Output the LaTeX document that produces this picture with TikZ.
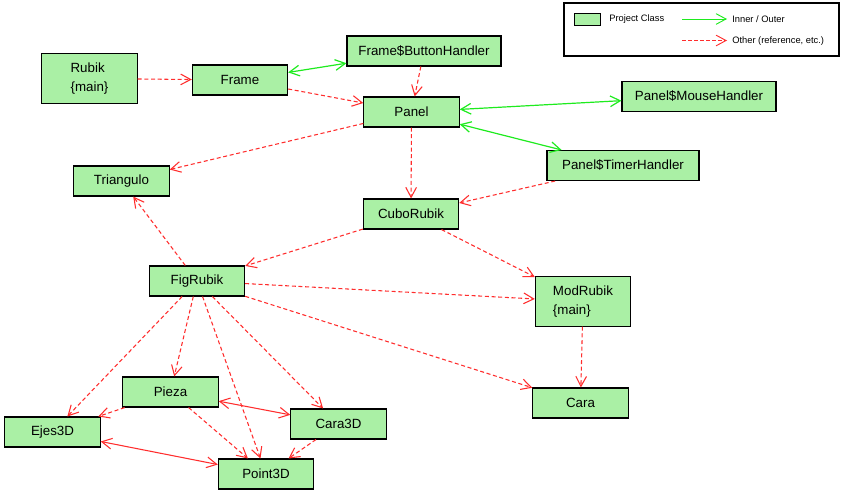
\documentclass[tikz,border=0pt]{standalone}
\usepackage{fontspec}
\setmainfont{Liberation Sans}
\usetikzlibrary{arrows.meta}

\definecolor{clsfill}{RGB}{170,240,165}
\definecolor{innergreen}{RGB}{30,235,30}
\definecolor{otherred}{RGB}{255,45,45}

\tikzset{
    >={Straight Barb[length=7.5pt,width=8pt]},
    cls/.style = {draw=black, line width=0.8pt, fill=clsfill, inner sep=0pt,
                  minimum width=71.5pt, minimum height=22.5pt, font={\fontsize{10}{12}\selectfont}},
    widecls/.style = {cls, minimum width=115.5pt},
    maincls/.style = {cls, minimum height=37pt, align=left, font={\fontsize{10}{14}\selectfont}},
    inner/.style = {draw=innergreen, line width=0.9pt, <->},
    other/.style = {draw=otherred, line width=0.8pt, dash pattern=on 3pt off 2pt, ->},
    otherboth/.style = {draw=otherred, line width=0.8pt, <->},
    legendtext/.style = {font={\fontsize{7}{8}\selectfont}, anchor=west, inner sep=0pt},
}

\begin{document}
\begin{tikzpicture}[x=0.75pt, y=-0.75pt]
        \useasboundingbox (0, 0) rectangle (845, 494);

        % legend
        \draw[line width=0.8pt] (564, 3) rectangle (839, 56);
        \node[draw=black, line width=0.7pt, fill=clsfill, minimum width=20pt, minimum height=9pt, inner sep=0pt] (keybox) at (587.5, 19) {};
        \node[legendtext] (keyclass) at (609, 19) {Project Class};
        \coordinate (innera) at (682, 19);
        \coordinate (innerb) at (727, 19);
        \coordinate (othera) at (682, 40.5);
        \coordinate (otherb) at (727, 40.5);
        \draw[draw=innergreen, line width=0.7pt, ->] (innera) -- (innerb);
        \draw[draw=otherred, line width=0.7pt, dash pattern=on 3pt off 1.5pt, ->] (othera) -- (otherb);
        \node[legendtext] (keyinner) at (732, 19) {Inner / Outer};
        \node[legendtext] (keyother) at (732, 41) {Other (reference, etc.)};

        % classes
        \node[maincls] (rubik) at (89.5, 78.5) {Rubik\\\{main\}};
        \node[cls] (frame) at (240, 80) {Frame};
        \node[widecls] (framebtn) at (424, 51) {Frame\$ButtonHandler};
        \node[cls] (panel) at (411.5, 112) {Panel};
        \node[widecls] (panelmouse) at (699, 96.5) {Panel\$MouseHandler};
        \node[widecls, minimum width=114pt] (paneltimer) at (623, 165.5) {Panel\$TimerHandler};
        \node[cls] (triangulo) at (121.5, 181) {Triangulo};
        \node[cls] (cubo) at (411, 214) {CuboRubik};
        \node[cls] (figrubik) at (197, 281) {FigRubik};
        \node[maincls] (modrubik) at (583, 301.5) {ModRubik\\\{main\}};
        \node[cls] (cara) at (580.5, 403) {Cara};
        \node[cls] (pieza) at (170.5, 392) {Pieza};
        \node[cls] (ejes) at (52.5, 432) {Ejes3D};
        \node[cls] (cara3d) at (338.5, 424) {Cara3D};
        \node[cls] (point) at (266, 474) {Point3D};

        % inner / outer
        \draw[inner] (frame) -- (framebtn);
        \draw[inner] (panel) -- (panelmouse);
        \draw[inner] (panel) -- (paneltimer);

        % other
        \draw[other] (rubik) -- (frame);
        \draw[other] (frame) -- (panel);
        \draw[other] (framebtn) -- (panel);
        \draw[other] (panel) -- (triangulo);
        \draw[other] (panel) -- (cubo);
        \draw[other] (paneltimer) -- (cubo);
        \draw[other] (cubo) -- (figrubik);
        \draw[other] (cubo) -- (modrubik);
        \draw[other] (figrubik) -- (triangulo);
        \draw[other] (figrubik) -- (modrubik);
        \draw[other] (figrubik) -- (cara);
        \draw[other] (figrubik) -- (ejes);
        \draw[other] (figrubik) -- (pieza);
        \draw[other] (figrubik) -- (point);
        \draw[other] (figrubik) -- (cara3d);
        \draw[other] (modrubik) -- (cara);
        \draw[other] (pieza) -- (ejes);
        \draw[other] (pieza) -- (point);
        \draw[other] (cara3d) -- (point);
        \draw[otherboth] (pieza) -- (cara3d);
        \draw[otherboth] (ejes) -- (point);
    \end{tikzpicture}
\end{document}
